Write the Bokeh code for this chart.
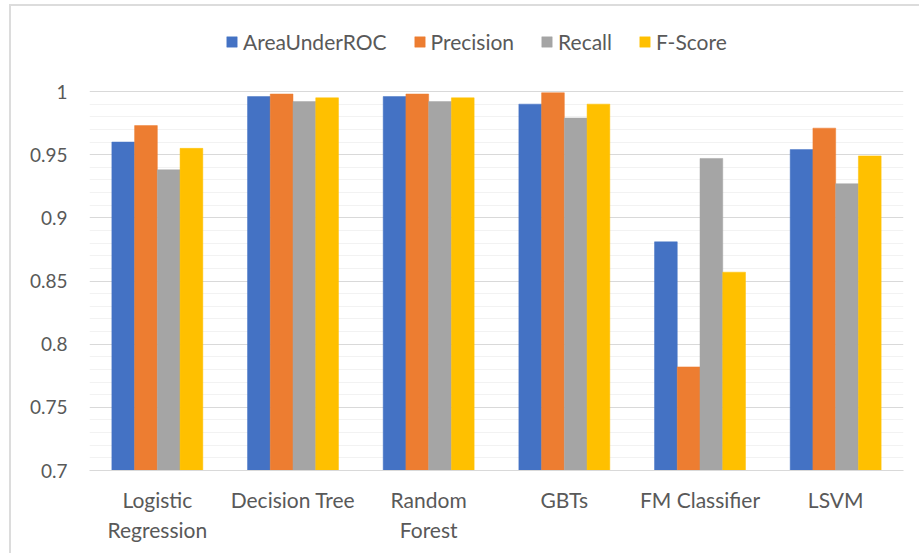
from bokeh.plotting import figure
from bokeh.models import (FactorRange, Range1d, FixedTicker, CustomJSTickFormatter,
                          ColumnDataSource, Legend)
from bokeh.transform import dodge
from bokeh.embed import file_html
from bokeh.resources import INLINE

categories = ["Logistic\nRegression", "Decision Tree", "Random\nForest", "GBTs", "FM Classifier", "LSVM"]
area_under_roc = [0.960, 0.996, 0.996, 0.990, 0.881, 0.954]
precision = [0.973, 0.998, 0.998, 0.999, 0.782, 0.971]
recall = [0.938, 0.992, 0.992, 0.979, 0.947, 0.927]
f_score = [0.955, 0.995, 0.995, 0.990, 0.857, 0.949]
series_names = ["AreaUnderROC", "Precision", "Recall", "F-Score"]
colors = ["#4472C4", "#ED7D31", "#A5A5A5", "#FFC000"]
y_ticks = [0.7, 0.75, 0.8, 0.85, 0.9, 0.95, 1.0]
y_minor_ticks = [round(0.7 + 0.01 * i, 2) for i in range(31) if i % 5 != 0]

FONT = "Lato"
TXT = "#595959"

src = ColumnDataSource(data=dict(cat=categories, auc=area_under_roc, prec=precision,
                                 rec=recall, f=f_score))

# frame spans canvas 0..464; value 1.0 sits 85 px below the top of the frame
px_per_unit = 379 / 0.3
y_top = 0.7 + 464 / px_per_unit

p = figure(width=910, height=549, x_range=FactorRange(*categories, range_padding=0),
           y_range=Range1d(0.7, y_top), output_backend="svg", toolbar_location=None,
           min_border_left=78, min_border_right=18, min_border_top=0, min_border_bottom=85)
p.outline_line_color = None
p.styles = {"margin-left": "9px", "margin-top": "4px",
            "border-left": "2px solid #DCDCDC", "border-top": "2px solid #DCDCDC"}

bw = 0.1676
cols = ["auc", "prec", "rec", "f"]
offsets = [-1.5 * bw, -0.5 * bw, 0.5 * bw, 1.5 * bw]
items = []
for c, off, col, name in zip(cols, offsets, colors, series_names):
    r = p.vbar(x=dodge("cat", off, range=p.x_range), top=c, bottom=0.7, width=bw, source=src,
               fill_color=col, line_color=col, line_width=0.5)
    items.append((name, [r]))

# y axis
p.yaxis.ticker = FixedTicker(ticks=y_ticks, minor_ticks=y_minor_ticks)
p.yaxis.formatter = CustomJSTickFormatter(code="return String(Number(tick.toFixed(2)));")
p.yaxis.axis_line_color = None
p.yaxis.major_tick_line_color = None
p.yaxis.minor_tick_line_color = None
p.yaxis.major_tick_out = 0
p.yaxis.major_tick_in = 0
p.yaxis.minor_tick_out = 0
p.yaxis.major_label_standoff = 22
p.yaxis.major_label_text_font = FONT
p.yaxis.major_label_text_font_size = "19px"
p.yaxis.major_label_text_color = TXT

# x axis
p.xaxis.axis_line_color = "#D9D9D9"
p.xaxis.major_tick_line_color = None
p.xaxis.minor_tick_line_color = None
p.xaxis.major_label_standoff = 10
p.xaxis.major_label_text_font = FONT
p.xaxis.major_label_text_font_size = "21px"
p.xaxis.major_label_text_color = TXT

# grids
p.xgrid.grid_line_color = None
p.ygrid.grid_line_color = "#D9D9D9"
p.ygrid.grid_line_width = 1.2
p.ygrid.minor_grid_line_color = "#F2F2F2"
p.ygrid.minor_grid_line_width = 1.2

# legend (inside the frame's upper blank band)
lg = Legend(items=items, location=(136, 416), orientation="horizontal")
lg.padding = 0
lg.margin = 0
lg.border_line_color = None
lg.background_fill_alpha = 0
lg.glyph_width = 13
lg.glyph_height = 13
lg.label_standoff = 5
lg.spacing = 26
lg.label_text_font = FONT
lg.label_text_font_size = "21px"
lg.label_text_color = TXT
p.add_layout(lg, "center")

open("out.html", "w").write(file_html(p, INLINE))
